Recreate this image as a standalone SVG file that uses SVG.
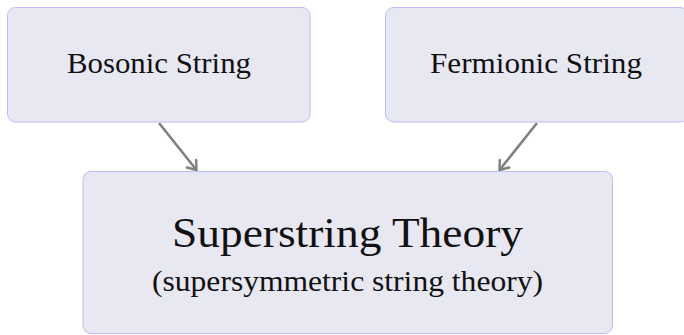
<svg xmlns="http://www.w3.org/2000/svg" width="684" height="335" viewBox="0 0 684 335">
  <style>
    .box { fill: #e8e8f3; stroke: #bcbcf6; stroke-width: 1; }
    .lbl { font-family: "Liberation Serif", "DejaVu Serif", serif; fill: #111; text-anchor: middle; }
    .conn { stroke: #808080; stroke-width: 2.6; fill: none; marker-end: url(#arr); }
  </style>
  <defs>
    <marker id="arr" viewBox="-10 -8 12 16" refX="0" refY="0" markerWidth="12" markerHeight="16" markerUnits="userSpaceOnUse" orient="auto">
      <path d="M -8 -6 Q -2.5 -1.8 0 0 Q -2.5 1.8 -8 6" fill="none" stroke="#808080" stroke-width="2.4" stroke-linecap="round"/>
    </marker>
  </defs>
  <rect width="684" height="335" fill="#ffffff"/>
  <g id="connectors">
    <line class="conn" x1="159" y1="123" x2="196.5" y2="170"/>
    <line class="conn" x1="537" y1="123" x2="499.5" y2="170"/>
  </g>
  <g id="bosonic">
    <rect class="box" x="7.5" y="7.5" width="302.5" height="114.5" rx="8"/>
    <text class="lbl" x="159" y="73" font-size="29" textLength="184" lengthAdjust="spacingAndGlyphs">Bosonic String</text>
  </g>
  <g id="fermionic">
    <rect class="box" x="385.5" y="7.5" width="302.5" height="114.5" rx="8"/>
    <text class="lbl" x="536" y="73" font-size="29" textLength="212" lengthAdjust="spacingAndGlyphs">Fermionic String</text>
  </g>
  <g id="superstring">
    <rect class="box" x="83" y="171.5" width="529.5" height="162" rx="8"/>
    <text class="lbl" x="347.5" y="247" font-size="42" textLength="351" lengthAdjust="spacingAndGlyphs">Superstring Theory</text>
    <text class="lbl" x="347.5" y="291" font-size="29" textLength="391" lengthAdjust="spacingAndGlyphs">(supersymmetric string theory)</text>
  </g>
</svg>
